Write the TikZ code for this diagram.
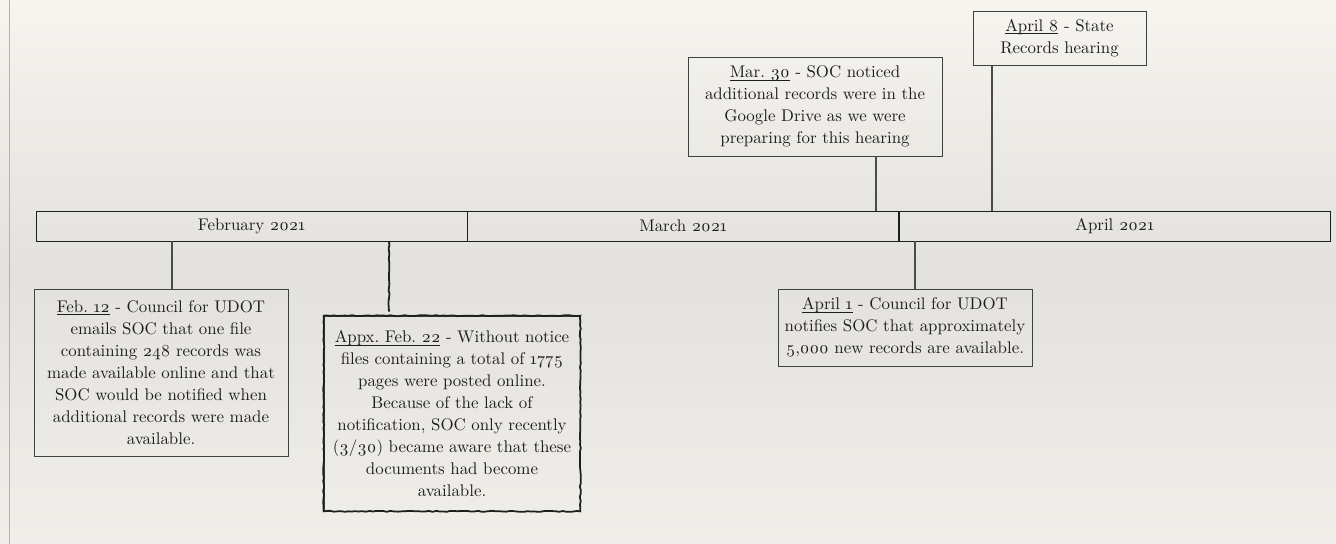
\documentclass[tikz,border=0pt]{standalone}
\usepackage{fontspec}
\setmainfont{Latin Modern Roman}[Numbers=OldStyle]
\usetikzlibrary{positioning,decorations.pathmorphing}
\definecolor{ink}{HTML}{1E1E1E}
\definecolor{paper}{HTML}{F6F4EF}
\definecolor{paperdark}{HTML}{E3E1DD}
\newsavebox\datebox
\newcommand\evdate[1]{\sbox\datebox{#1}\rlap{\rule[-1.6pt]{\wd\datebox}{0.45pt}}\usebox\datebox}

\begin{document}
\begin{tikzpicture}[x=0.02cm,y=-0.02cm,font=\fontsize{9.6}{12.5}\selectfont,text=ink,
 month/.style={draw=ink,minimum width=8.62cm,minimum height=0.6cm,inner sep=0pt},
 ev/.style={draw=ink!85,align=center,inner sep=0pt},
 rough/.style={draw=ink,line width=1pt,decorate,decoration={random steps,segment length=2pt,amplitude=0.3pt}},
 link/.style={draw=ink!80,line width=0.6pt}]
\useasboundingbox (0,0) rectangle (1336,544);
\shade[top color=paper,bottom color=paper!70!paperdark,middle color=paperdark] (0,0) rectangle (1336,544);
\draw[gray!60] (9.5,0) -- (9.5,544);
% month bar
\node[month](bfeb) at (251.5,226){February 2021};
\node[month,right=0pt of bfeb](bmar){March 2021};
\node[month,right=0pt of bmar](bapr){April 2021};
% events
\node[ev,text width=5.08cm,minimum height=3.34cm](feb12) at (161,372.5){\evdate{Feb.\ 12} - Council for UDOT\\emails SOC that one file\\containing 248 records was\\made available online and that\\SOC would be notified when\\additional records were made\\available.};
\node[ev,text width=5.12cm,minimum height=3.9cm](feb22) at (452,413.5){\evdate{Appx.\ Feb.\ 22} - Without notice\\files containing a total of 1775\\pages were posted online.\\Because of the lack of\\notification, SOC only recently\\(3/30) became aware that these\\documents had become\\available.};
\path[rough] (feb22.north west) rectangle (feb22.south east);
\node[ev,text width=5.08cm,minimum height=1.98cm](mar30) at (815,106.5){\evdate{Mar.\ 30} - SOC noticed\\additional records were in the\\Google Drive as we were\\preparing for this hearing};
\node[ev,text width=3.46cm,minimum height=1.08cm](apr8) at (1059.5,38){\evdate{April 8} - State\\Records hearing};
\node[ev,text width=5.08cm,minimum height=1.54cm](apr1) at (905,327.5){\evdate{April 1} - Council for UDOT\\notifies SOC that approximately\\5,000 new records are available.};
% connectors
\draw[link] (feb12.north) ++(11,0) coordinate (c1) -- (c1 |- bfeb.south);
\draw[rough] (feb22.north) ++(-63,-4) coordinate (c2) -- (c2 |- bfeb.south);
\draw[link] (mar30.south) ++(61,0) coordinate (c3) -- (c3 |- bmar.north);
\draw[link] (apr8.south) ++(-67.5,0) coordinate (c4) -- (c4 |- bapr.north);
\draw[link] (apr1.north) ++(10,0) coordinate (c5) -- (c5 |- bapr.south);
\end{tikzpicture}
\end{document}
